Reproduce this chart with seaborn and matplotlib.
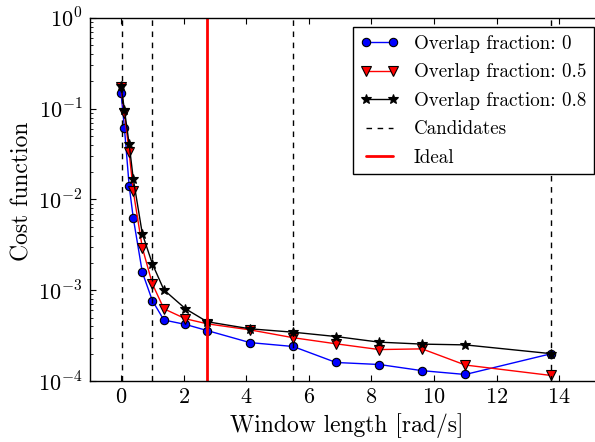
import numpy as np
import matplotlib
matplotlib.use("Agg")
import matplotlib.pyplot as plt
import seaborn as sns
from matplotlib.ticker import FuncFormatter, LogLocator, NullFormatter, FixedLocator

# Window lengths [rad/s] and cost per overlap fraction
window_length = [0.0, 0.11, 0.26, 0.39, 0.68, 1.0, 1.37, 2.06, 2.75,
                 4.12, 5.5, 6.87, 8.25, 9.62, 11.0, 13.75]
cost_overlap_0 = [0.151, 0.0606, 0.0142, 6.3e-3, 1.58e-3, 7.7e-4, 4.7e-4, 4.2e-4,
                  3.6e-4, 2.65e-4, 2.4e-4, 1.6e-4, 1.52e-4, 1.30e-4, 1.18e-4, 2.0e-4]
cost_overlap_05 = [0.172, 0.0887, 0.0330, 0.0124, 2.95e-3, 1.18e-3, 6.25e-4, 4.85e-4,
                   4.27e-4, 3.66e-4, 3.0e-4, 2.57e-4, 2.22e-4, 2.26e-4, 1.50e-4, 1.15e-4]
cost_overlap_08 = [0.178, 0.0966, 0.0407, 0.017, 4.2e-3, 1.96e-3, 1.01e-3, 6.25e-4,
                   4.5e-4, 3.76e-4, 3.45e-4, 3.09e-4, 2.68e-4, 2.55e-4, 2.5e-4, 2.0e-4]
series_labels = ["Overlap fraction: 0", "Overlap fraction: 0.5", "Overlap fraction: 0.8"]
candidates = [0.02, 1.0, 5.5, 13.75]
ideal = 2.75
x_ticks = [0, 2, 4, 6, 8, 10, 12, 14]

sns.set_style("ticks")
plt.rcParams.update({
    "font.family": ["cmr10", "DejaVu Serif"],
    "mathtext.fontset": "cm",
    "axes.formatter.use_mathtext": True,
    "axes.unicode_minus": False,
    "axes.edgecolor": "black",
    "axes.linewidth": 1.0,
    "xtick.direction": "in",
    "ytick.direction": "in",
    "xtick.top": True,
    "ytick.right": True,
    "xtick.major.size": 4,
    "ytick.major.size": 4,
    "xtick.minor.size": 2,
    "ytick.minor.size": 2,
    "xtick.color": "black",
    "ytick.color": "black",
    "text.color": "black",
    "axes.labelcolor": "black",
})

fig = plt.figure(figsize=(5.95, 4.42), dpi=100)
ax = fig.add_axes([0.1508, 0.138, 0.8626, 0.8213])

styles = [
    dict(color="blue", marker="o", markersize=6),
    dict(color="red", marker="v", markersize=7),
    dict(color="black", marker="*", markersize=7),
]
for cost, lab, st in zip([cost_overlap_0, cost_overlap_05, cost_overlap_08], series_labels, styles):
    sns.lineplot(x=window_length, y=cost, ax=ax, estimator=None, sort=False,
                 linewidth=1.0, markeredgecolor="black", markeredgewidth=0.8,
                 label=lab, **st)

for i, c in enumerate(candidates):
    ax.axvline(c, color="black", linestyle=(0, (4, 4)), linewidth=1.0,
               label="Candidates" if i == 0 else None)
ax.axvline(ideal, color="red", linewidth=2.0, label="Ideal")

ax.set_yscale("log")
ax.set_ylim(1e-4, 1)
ax.set_xlim(-1, 15.4)
ax.xaxis.set_major_locator(FixedLocator(x_ticks))
ax.yaxis.set_major_locator(LogLocator(base=10, numticks=10))
ax.yaxis.set_minor_locator(LogLocator(base=10, subs=np.arange(2, 10), numticks=20))
ax.yaxis.set_minor_formatter(NullFormatter())
ax.yaxis.set_major_formatter(FuncFormatter(lambda v, p: r"$10^{%d}$" % round(np.log10(v))))
ax.tick_params(labelsize=16, pad=5)

ax.set_xlabel("Window length [rad/s]", fontsize=17)
ax.set_ylabel("Cost function", fontsize=17)
ax.yaxis.set_label_coords(-0.110, 0.522)

h, l = ax.get_legend_handles_labels()
leg = ax.legend(h, l, loc="upper right", bbox_to_anchor=(594 / 595, 1 - 27.3 / 442),
                bbox_transform=fig.transFigure, borderaxespad=0, numpoints=2,
                fontsize=13.7, frameon=True, fancybox=False, framealpha=1,
                edgecolor="black", handlelength=2.0, handletextpad=0.8,
                borderpad=0.4, labelspacing=0.55)
leg.get_frame().set_linewidth(1.0)

fig.savefig("out.png", dpi=100)
